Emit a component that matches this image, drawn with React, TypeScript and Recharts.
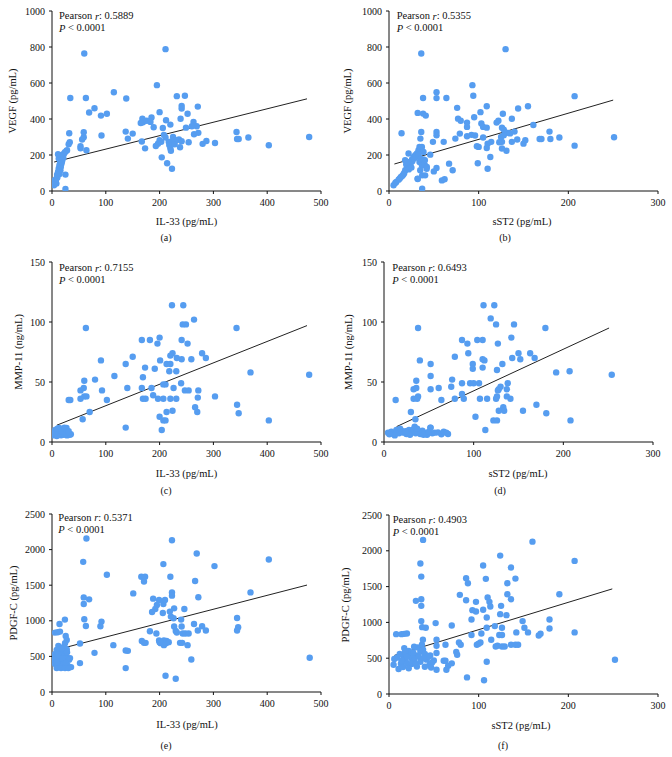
import React from 'react';
import { ScatterChart, Scatter, XAxis, YAxis, ReferenceLine } from 'recharts';

const BLUE = '#569df0';
const FONT = '"Liberation Serif", "Times New Roman", serif';

type Pt = [number, number];

const il33Ticks = [0, 100, 200, 300, 400, 500];
const sst2Ticks = [0, 100, 200, 300];
const vegfTicks = [0, 200, 400, 600, 800, 1000];
const mmp11Ticks = [0, 50, 100, 150];
const pdgfcTicks = [0, 500, 1000, 1500, 2000, 2500];

const vegfVsIl33: Pt[] = [
  [60,764],[211,788],[195,588],[115,549],[34,517],[63,517],[138,514],[232,527],[247,529],[79,460],[69,436],[91,419],[102,429],[200,438],[241,473],[241,458],[271,469],[252,429],[239,401],[212,393],[220,369],[168,402],[169,382],[176,390],[185,408],[183,384],[189,354],[206,350],[165,378],[263,384],[269,360],[260,360],[249,352],[272,323],[264,315],[280,262],[287,278],[303,267],[343,328],[344,289],[347,289],[365,297],[403,254],[478,300],[254,271],[236,286],[225,300],[231,282],[241,276],[222,275],[211,297],[208,312],[200,282],[197,263],[203,273],[193,250],[217,273],[218,256],[220,237],[221,223],[238,243],[228,260],[204,187],[214,154],[223,124],[167,275],[173,237],[141,291],[150,319],[137,330],[92,308],[64,226],[59,299],[59,326],[56,286],[53,237],[53,249],[32,321],[33,271],[31,260],[28,226],[25,91],[25,11],
  [3.7,32],[6.3,50],[8.2,69],[10,87],[11.2,106],[12.5,125],[13.8,143],[15,161],[12.5,180],[11.2,204],[16,199],[18.6,180],[20.5,199],[22.4,208],[26.8,223],[17.5,152],[15.6,115],[8.2,41],[5,60],[14,95],[16.5,135],[19,170],[21,185],[10,75],[7,55],[13,110],[18,160],[24,215],[4,38],[9.5,90]
];

const vegfVsSst2: Pt[] = [
  [36,764],[130,788],[93,588],[94,529],[53,549],[53,516],[64,517],[38,517],[32,434],[38,430],[41,419],[14,321],[76,462],[109,471],[155,471],[144,458],[127,429],[102,438],[95,410],[77,402],[80,390],[137,401],[87,380],[87,356],[103,375],[105,356],[109,352],[120,380],[122,390],[126,352],[128,341],[161,367],[179,330],[190,297],[168,289],[170,289],[180,289],[207,252],[207,527],[251,299],[152,282],[150,263],[143,286],[133,323],[137,273],[131,224],[126,236],[126,273],[123,271],[114,273],[113,189],[110,263],[109,239],[110,124],[100,245],[98,249],[99,154],[96,308],[92,312],[87,304],[79,319],[105,297],[74,291],[61,273],[53,328],[53,310],[53,128],[50,109],[59,59],[62,65],[67,152],[71,115],[46,202],[49,273],[32,67],[37,87],[37,13],[40,143],[40,171],[42,124],[35,291],[36,328],[34,245],[130,325],[135,320],[140,330],[125,300],[128,310],
  [5.1,32],[8.1,50],[10.7,63],[13.3,78],[16.2,93],[18.1,115],[20,134],[21.8,143],[23.7,161],[25.6,175],[27.3,189],[29.2,199],[31.1,208],[32.9,226],[34.8,236],[36.7,245],[38.5,217],[21.8,208],[18,171],[19.2,149],[34,161],[36.7,143],[38.5,175],[34.8,115],[31.9,69],[40.3,87],[42.2,134],[15,85],[17,100],[22,120],[24,150],[26,165],[28,180],[30,190],[12,70],[7,45],[20,160],[25,130],[33,200],[35,180]
];

const mmp11VsIl33: Pt[] = [
  [63,95],[223,114],[244,114],[264,102],[243,98],[249,98],[343,95],[91,68],[137,65],[150,71],[167,85],[182,85],[200,87],[196,82],[241,85],[252,82],[279,74],[286,70],[259,69],[241,69],[232,70],[224,74],[220,72],[213,65],[220,65],[201,68],[173,62],[191,61],[218,59],[231,59],[369,58],[478,56],[116,55],[80,52],[60,51],[53,43],[59,45],[93,43],[60,38],[64,38],[102,35],[53,36],[34,35],[31,35],[70,25],[57,19],[140,45],[167,45],[169,54],[185,45],[188,39],[174,36],[169,36],[197,36],[207,36],[220,36],[231,36],[211,48],[207,48],[226,45],[240,49],[247,43],[254,43],[272,43],[271,37],[303,38],[266,29],[270,25],[344,31],[347,24],[403,18],[213,25],[224,26],[200,21],[207,18],[211,18],[204,10],[137,12],
  [3,5.6],[5,8],[8,9.5],[11,8],[14,9],[17,5.6],[20,10.3],[24,8],[27,11.7],[30,7],[33,6],[9,5],[13,11.7],[22,6],[6,10],[16,11],[19,7],[25,10],[28,5.5],[35,6.5],[12,6.5],[4,7],[10,11],[18,9],[23,12],[26,7.5],[31,9]
];

const mmp11VsSst2: Pt[] = [
  [38,95],[111,114],[123,114],[119,103],[125,98],[145,98],[180,95],[87,85],[93,82],[104,85],[110,85],[127,82],[142,87],[79,71],[94,74],[99,65],[99,61],[110,69],[112,68],[110,62],[132,65],[126,60],[143,70],[150,74],[152,69],[163,74],[168,70],[192,58],[207,59],[254,56],[40,68],[52,65],[52,55],[36,51],[33,44],[36,45],[52,44],[61,45],[75,46],[76,52],[87,49],[96,49],[100,49],[106,49],[87,40],[89,36],[79,36],[64,35],[38,38],[33,36],[37,36],[13,35],[30,25],[35,19],[107,36],[115,36],[125,36],[126,38],[130,46],[128,44],[127,43],[138,49],[137,44],[141,36],[137,38],[133,29],[134,26],[128,26],[155,26],[170,31],[181,24],[208,18],[122,18],[126,18],[102,21],[113,10],[52,12],
  [4.5,7.8],[8.2,8.6],[10.8,6.7],[13.8,10],[16.8,7.2],[19.4,9.5],[22,7.8],[25,6.7],[27.9,10],[30.5,8.3],[33.1,10.6],[35.3,7.2],[38,8.6],[40.5,6.7],[42.8,9.5],[45.4,7.8],[48,6.1],[51.7,12],[53.9,7.2],[56.5,7.8],[60.2,8],[64,6.4],[66.6,8.6],[69.5,7.8],[71.4,6.7],[34.2,12.8],[12,5.5],[6,6.5],[18,11],[24,9],[29,6],[37,11],[44,6],[50,8.5]
];

const pdgfcVsIl33: Pt[] = [
  [64,2155],[223,2131],[269,1945],[403,1861],[58,1828],[207,1796],[302,1768],[102,1646],[166,1618],[173,1618],[171,1553],[220,1618],[266,1558],[369,1399],[223,1399],[223,1353],[151,1385],[272,1330],[59,1329],[69,1301],[59,1236],[188,1311],[199,1292],[207,1236],[210,1292],[195,1222],[192,1166],[186,1124],[227,1175],[246,1166],[206,1110],[219,1129],[221,1059],[226,1035],[240,1017],[60,1021],[24,1017],[92,989],[90,923],[63,928],[14,956],[227,919],[230,858],[232,835],[241,919],[264,956],[279,923],[286,863],[271,863],[344,1040],[346,909],[344,863],[182,853],[194,821],[243,821],[248,821],[254,821],[167,718],[171,690],[174,690],[199,723],[202,686],[208,723],[212,686],[213,718],[208,658],[217,700],[200,700],[238,690],[242,690],[252,658],[114,658],[52,681],[79,550],[137,583],[141,578],[52,406],[259,457],[479,480],[137,336],[211,229],[230,187],
  [5.6,834],[10.6,840],[14.9,848],[25.5,788],[27.4,732],[24.2,686],[11.8,648],[21,630],[27.4,602],[8.7,592],[14.9,568],[21,554],[5.6,536],[25.5,536],[2.5,498],[8.7,498],[14.9,490],[21,498],[27.4,490],[33.5,476],[4.3,452],[11.8,443],[18,452],[24.2,428],[31.7,452],[5.6,396],[13,382],[21,396],[29.2,368],[35.4,350],[8.7,336],[16.8,336],[24.2,336],[30.4,336],[18,610],[12,520],[28,560],[20,470],[9,420],[26,410]
];

const pdgfcVsSst2: Pt[] = [
  [38,2152],[160,2128],[124,1933],[207,1859],[35,1822],[105,1794],[136,1766],[36,1640],[86,1617],[108,1608],[141,1612],[88,1547],[132,1547],[79,1385],[190,1394],[110,1348],[132,1394],[36,1324],[136,1324],[30,1301],[86,1310],[97,1287],[112,1287],[113,1222],[125,1231],[36,1231],[93,1171],[97,1152],[105,1176],[124,1115],[131,1101],[92,1041],[109,1069],[118,948],[179,1041],[36,1018],[52,990],[70,957],[109,925],[126,925],[149,1018],[151,925],[155,860],[179,915],[169,841],[167,818],[207,860],[37,934],[41,925],[8,836],[14,836],[17,840],[20,845],[92,823],[103,846],[123,823],[126,823],[142,860],[136,688],[141,688],[144,688],[121,674],[126,664],[129,664],[119,664],[98,688],[102,720],[100,702],[114,757],[78,720],[80,688],[63,688],[53,757],[53,674],[53,572],[75,586],[76,548],[46,539],[61,465],[63,465],[70,428],[66,395],[64,339],[50,469],[53,339],[87,232],[106,191],[109,451],[252,479],
  [5.9,488],[5.1,409],[10.7,349],[13.3,422],[16.2,516],[18.1,478],[15.6,376],[20,432],[23.7,548],[17,641],[31.1,385],[36.7,687],[37.8,757],[45.2,409],[25,500],[28,470],[30,540],[33,520],[35,590],[38,620],[40,560],[42,480],[22,600],[27,580],[12,560],[18,590],[9,510],[25,420],[35,450],[40,380],[44,520],[32,650],[28,660],[20,520],[14,470],[48,440],[38,500],[30,420],[22,360],[47,370]
];

// Regression line endpoints [x, y]
const fitA: Pt[] = [[4, 161], [474, 512]];
const fitB: Pt[] = [[6, 150], [250, 505]];
const fitC: Pt[] = [[9, 14], [474, 97]];
const fitD: Pt[] = [[14, 12.8], [251, 95]];
const fitE: Pt[] = [[20, 616], [474, 1502]];
const fitF: Pt[] = [[6, 539], [249, 1468]];

const pearsonR = ['0.5889', '0.5355', '0.7155', '0.6493', '0.5371', '0.4903'];
const xTitles = ['IL-33 (pg/mL)', 'sST2 (pg/mL)', 'IL-33 (pg/mL)', 'sST2 (pg/mL)', 'IL-33 (pg/mL)', 'sST2 (pg/mL)'];
const yTitles = ['VEGF (pg/mL)', 'VEGF (pg/mL)', 'MMP-11 (ng/mL)', 'MMP-11 (ng/mL)', 'PDGF-C (pg/mL)', 'PDGF-C (pg/mL)'];
const panelTags = ['(a)', '(b)', '(c)', '(d)', '(e)', '(f)'];

const YW = 50;
const MT = 10;
const XH = 30;
const MR = 14;

type PanelProps = {
  data: Pt[];
  fit: Pt[];
  xTicks: number[];
  yTicks: number[];
  left: number;
  top: number;
  w: number;
  h: number;
};

function Panel({ data, fit, xTicks, yTicks, left, top, w, h }: PanelProps) {
  const pts = data.map(([x, y]) => ({ x, y }));
  const tickStyle = { fill: '#111', fontSize: 10, fontFamily: FONT };
  return (
    <div style={{ position: 'absolute', left: left - YW, top: top - MT }}>
      <ScatterChart width={YW + w + MR} height={MT + h + XH} margin={{ top: MT, right: MR, bottom: 0, left: 0 }}>
        <XAxis
          type="number"
          dataKey="x"
          domain={[0, xTicks[xTicks.length - 1]]}
          ticks={xTicks}
          interval={0}
          tickSize={3}
          tickMargin={5}
          height={XH}
          axisLine={{ stroke: '#111' }}
          tickLine={{ stroke: '#111' }}
          tick={tickStyle}
          allowDataOverflow
        />
        <YAxis
          type="number"
          dataKey="y"
          domain={[0, yTicks[yTicks.length - 1]]}
          ticks={yTicks}
          interval={0}
          tickSize={3}
          tickMargin={4}
          width={YW}
          axisLine={{ stroke: '#111' }}
          tickLine={{ stroke: '#111' }}
          tick={tickStyle}
          allowDataOverflow
        />
        <Scatter
          data={pts}
          isAnimationActive={false}
          shape={(p: any) => <circle cx={p.cx} cy={p.cy} r={3.2} fill={BLUE} />}
        />
        <ReferenceLine
          segment={[{ x: fit[0][0], y: fit[0][1] }, { x: fit[1][0], y: fit[1][1] }]}
          stroke="#222"
          strokeWidth={1}
        />
      </ScatterChart>
    </div>
  );
}

const layout = [
  { left: 52, top: 11, w: 269, h: 180 },
  { left: 389, top: 11, w: 269, h: 180 },
  { left: 52, top: 262, w: 269, h: 180 },
  { left: 384, top: 262, w: 269, h: 180 },
  { left: 52, top: 514, w: 269, h: 178 },
  { left: 389, top: 515, w: 269, h: 179 },
];

const yTitlePos = [
  [12.7, 101], [347.3, 101], [18.3, 352], [348.3, 352], [13.3, 603], [345, 605],
];
const xTitlePos = [
  [186.5, 221], [522, 221.5], [186.5, 473], [518, 473.3], [187, 724], [521, 725],
];
const tagPos = [
  [166, 237.5], [505, 237.5], [166, 490.5], [500, 490.5], [166, 745], [503, 745],
];
const notePos = [
  [59, 15.7], [396.7, 15.7], [59, 267.7], [392.3, 267.7], [58.3, 517], [392.7, 519.5],
];

export default function App() {
  const datasets = [vegfVsIl33, vegfVsSst2, mmp11VsIl33, mmp11VsSst2, pdgfcVsIl33, pdgfcVsSst2];
  const fits = [fitA, fitB, fitC, fitD, fitE, fitF];
  const xt = [il33Ticks, sst2Ticks, il33Ticks, sst2Ticks, il33Ticks, sst2Ticks];
  const yt = [vegfTicks, vegfTicks, mmp11Ticks, mmp11Ticks, pdgfcTicks, pdgfcTicks];
  return (
    <div style={{ position: 'absolute', left: 0, top: 0, width: 672, height: 757, background: '#fff', overflow: 'hidden' }}>
      {datasets.map((d, i) => (
        <Panel key={i} data={d} fit={fits[i]} xTicks={xt[i]} yTicks={yt[i]} {...layout[i]} />
      ))}
      <svg width={672} height={757} style={{ position: 'absolute', left: 0, top: 0, pointerEvents: 'none' }}>
        <g fontFamily={FONT} fill="#111">
          {yTitles.map((t, i) => (
            <text
              key={'y' + i}
              x={yTitlePos[i][0]}
              y={yTitlePos[i][1]}
              fontSize={10.5}
              textAnchor="middle"
              dominantBaseline="central"
              transform={`rotate(-90 ${yTitlePos[i][0]} ${yTitlePos[i][1]})`}
            >
              {t}
            </text>
          ))}
          {xTitles.map((t, i) => (
            <text key={'x' + i} x={xTitlePos[i][0]} y={xTitlePos[i][1]} fontSize={10.5} textAnchor="middle" dominantBaseline="central">
              {t}
            </text>
          ))}
          {panelTags.map((t, i) => (
            <text key={'t' + i} x={tagPos[i][0]} y={tagPos[i][1]} fontSize={10} textAnchor="middle" dominantBaseline="central">
              {t}
            </text>
          ))}
          {pearsonR.map((r, i) => (
            <g key={'n' + i}>
              <text x={notePos[i][0]} y={notePos[i][1]} fontSize={10.5} dominantBaseline="central">
                Pearson <tspan fontStyle="italic">r</tspan>: {r}
              </text>
              <text x={notePos[i][0]} y={notePos[i][1] + 12} fontSize={10.5} dominantBaseline="central">
                <tspan fontStyle="italic">P</tspan> {'<'} 0.0001
              </text>
            </g>
          ))}
        </g>
      </svg>
    </div>
  );
}
